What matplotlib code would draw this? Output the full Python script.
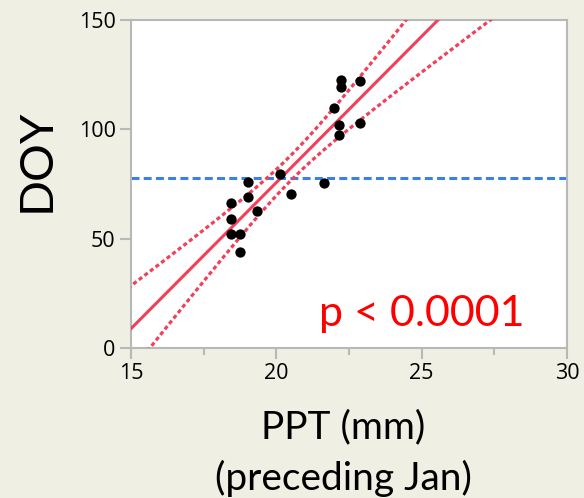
import numpy as np
import matplotlib
matplotlib.use("Agg")
import matplotlib.pyplot as plt
from matplotlib.ticker import MultipleLocator

# ---- data ----
ppt = [19.01, 20.14, 21.64, 19.01, 20.49, 18.44, 19.33, 18.44, 18.44,
       18.76, 18.76, 22.22, 22.22, 22.89, 21.97, 22.17, 22.89, 22.17]
doy = [76.0, 79.6, 75.3, 69.2, 70.3, 66.2, 62.8, 59.0, 52.1,
       52.0, 44.0, 122.4, 119.3, 122.1, 109.6, 102.0, 103.0, 97.4]
ref_doy = 77.7
x_ticks = [15, 20, 25, 30]
y_ticks = [0, 50, 100, 150]
p_label = "p < 0.0001"
t_crit = 2.120  # t(0.975, df=16)

x = np.array(ppt)
y = np.array(doy)
n = len(x)
slope, intercept = np.polyfit(x, y, 1)
resid = y - (intercept + slope * x)
s = np.sqrt(np.sum(resid ** 2) / (n - 2))
xm = x.mean()
sxx = np.sum((x - xm) ** 2)
xx = np.linspace(14.5, 30.5, 300)
yy = intercept + slope * xx
half = t_crit * s * np.sqrt(1.0 / n + (xx - xm) ** 2 / sxx)

BG = "#efefe3"
RED = "#f0405a"
BLUE = "#3a80e8"
GREY = "#b8b8b8"

fig = plt.figure(figsize=(5.84, 4.98), dpi=100, facecolor=BG)
ax = fig.add_axes([131 / 584, 1 - 348 / 498, (567 - 131) / 584, (348 - 20) / 498])
ax.set_facecolor("white")

ax.axhline(ref_doy, color=BLUE, lw=2.2, ls=(0, (2.6, 1.4)), zorder=2)
ax.plot(xx, yy, color=RED, lw=2.2, zorder=3)
ax.plot(xx, yy + half, color=RED, lw=2.3, ls=(0, (1.3, 0.9)), zorder=3)
ax.plot(xx, yy - half, color=RED, lw=2.3, ls=(0, (1.3, 0.9)), zorder=3)
ax.scatter(x, y, s=55, color="black", zorder=4, linewidths=0)

ax.set_xlim(15, 30)
ax.set_ylim(0, 150)
ax.set_xticks(x_ticks)
ax.set_yticks(y_ticks)
ax.xaxis.set_minor_locator(MultipleLocator(2.5))

for sp in ax.spines.values():
    sp.set_color(GREY)
    sp.set_linewidth(1.5)

ax.tick_params(axis="both", which="major", direction="out", length=8, width=1.5,
               color=GREY, labelsize=15.5, pad=3)
ax.tick_params(axis="x", which="minor", direction="out", length=5, width=1.5, color=GREY)
for lab in ax.get_xticklabels() + ax.get_yticklabels():
    lab.set_family("Open Sans")

ax.text(25.0, 10.0, p_label, color="red", fontsize=31,
        family="Lato", ha="center", va="baseline", zorder=5)

fig.text(37 / 584, 1 - 160 / 498, "DOY", rotation=90, fontsize=34, family="Lato",
         ha="center", va="center")
fig.text(343 / 584, 1 - 427 / 498, "PPT (mm)", fontsize=28, family="Lato",
         ha="center", va="center")
fig.text(343 / 584, 1 - 478 / 498, "(preceding Jan)", fontsize=28, family="Lato",
         ha="center", va="center")

fig.savefig("out.png", dpi=100, facecolor=BG)
